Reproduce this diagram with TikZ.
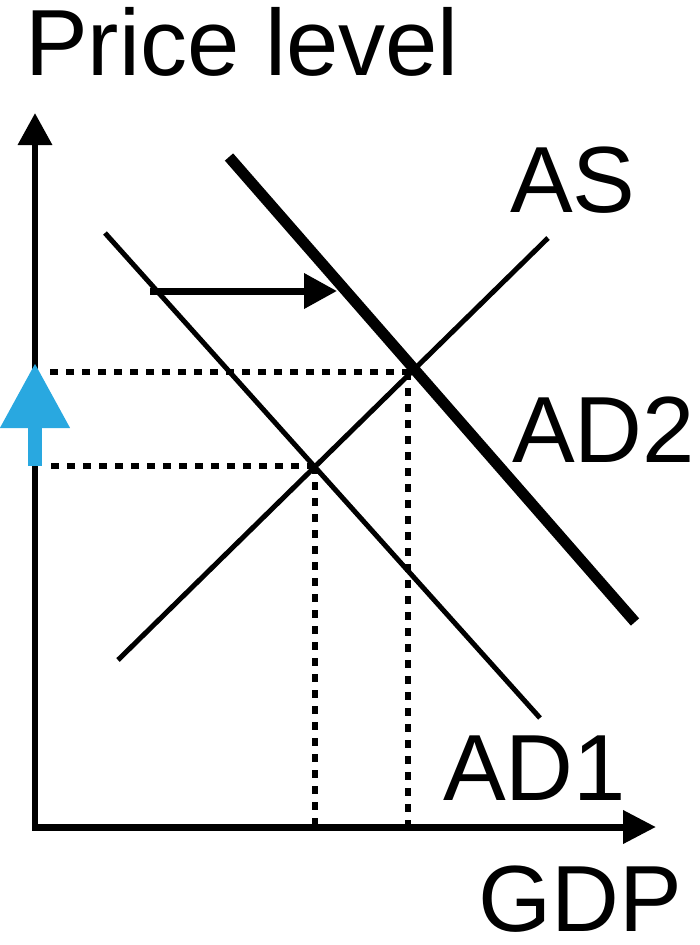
\documentclass[tikz,border=0pt]{standalone}
\usepackage{fontspec}
\setmainfont{Liberation Sans}
\usetikzlibrary{arrows.meta}
\definecolor{arrowblue}{RGB}{41,168,224}
\tikzset{
  lbl/.style={anchor=base west, inner sep=0pt, font=\fontsize{94}{94}\selectfont},
  axisline/.style={line width=6.5pt},
  curve/.style={line width=5pt},
  thickcurve/.style={line width=11pt},
  dotline/.style={line width=6pt, dash pattern=on 8pt off 8pt},
}
\begin{document}
\begin{tikzpicture}[x=1pt,y=-1pt]
\useasboundingbox (0,0) rectangle (699,945);
% coordinates
\coordinate (origin) at (35,830);
\coordinate (ytop) at (35,113);
\coordinate (xorig) at (32,827);
\coordinate (xend) at (656,827);
\coordinate (as1) at (118,660);
\coordinate (as2) at (548,238);
\coordinate (ad1a) at (105,233);
\coordinate (ad1b) at (540,718);
\coordinate (ad2a) at (229,157);
\coordinate (ad2b) at (635,622);
\coordinate (shs) at (150,291);
\coordinate (she) at (337,291);
\coordinate (e2) at (410,372);
\coordinate (e2l) at (46,372);
\coordinate (e2v) at (408,372);
\coordinate (e2b) at (408,827);
\coordinate (e1) at (315,466);
\coordinate (e1l) at (46,466);
\coordinate (e1b) at (315,833);
\coordinate (bs) at (35,466);
\coordinate (bt) at (35,363);
% dotted guides
\draw[dotline] (e2) -- (e2l);
\draw[dotline] (e2v) -- (e2b);
\draw[dotline] (e1) -- (e1l);
\draw[dotline] (e1) -- (e1b);
% axes
\draw[axisline, -{Triangle[length=32pt,width=33pt]}] (origin) -- (ytop);
\draw[line width=7pt, -{Triangle[length=33pt,width=32pt]}] (xorig) -- (xend);
% curves
\draw[curve] (as1) -- (as2);
\draw[curve] (ad1a) -- (ad1b);
\draw[thickcurve] (ad2a) -- (ad2b);
% shift arrow
\draw[line width=7pt, -{Triangle[length=33pt,width=34pt]}] (shs) -- (she);
% blue arrow
\draw[arrowblue, line width=14pt, -{Triangle[length=65pt,width=66pt]}] (bs) -- (bt);
% labels
\node[lbl] (pl) at (25,75) {Price level};
\node[lbl] (as) at (510,212) {AS};
\node[lbl] (ad2) at (512,462) {AD2};
\node[lbl] (ad1) at (443,800) {AD1};
\node[lbl] (gdp) at (478,931) {GDP};
\end{tikzpicture}
\end{document}
